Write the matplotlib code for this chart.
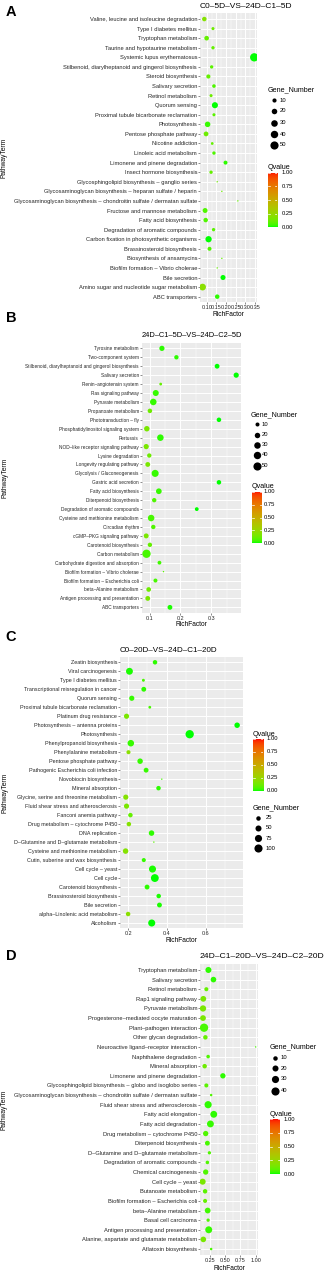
import numpy as np
import matplotlib
matplotlib.use("Agg")
import matplotlib.pyplot as plt
from matplotlib.colors import ListedColormap

plt.rcParams['font.family'] = ['Liberation Sans', 'DejaVu Sans']

# ---------------- data (top-to-bottom as displayed) ----------------
a_terms = ["Valine, leucine and isoleucine degradation", "Type I diabetes mellitus",
           "Tryptophan metabolism", "Taurine and hypotaurine metabolism",
           "Systemic lupus erythematosus", "Stilbenoid, diarylheptanoid and gingerol biosynthesis",
           "Steroid biosynthesis", "Salivary secretion", "Retinol metabolism", "Quorum sensing",
           "Proximal tubule bicarbonate reclamation", "Photosynthesis", "Pentose phosphate pathway",
           "Nicotine addiction", "Linoleic acid metabolism", "Limonene and pinene degradation",
           "Insect hormone biosynthesis", "Glycosphingolipid biosynthesis \u2013 ganglio series",
           "Glycosaminoglycan biosynthesis \u2013 heparan sulfate / heparin",
           "Glycosaminoglycan biosynthesis \u2013 chondroitin sulfate / dermatan sulfate",
           "Fructose and mannose metabolism", "Fatty acid biosynthesis",
           "Degradation of aromatic compounds", "Carbon fixation in photosynthetic organisms",
           "Brassinosteroid biosynthesis", "Biosynthesis of ansamycins",
           "Biofilm formation \u2013 Vibrio cholerae", "Bile secretion",
           "Amino sugar and nucleotide sugar metabolism", "ABC transporters"]
a_rich = [0.087, 0.132, 0.099, 0.132, 0.346, 0.125, 0.108, 0.137, 0.122, 0.142,
          0.137, 0.104, 0.096, 0.128, 0.137, 0.197, 0.122, 0.154, 0.178, 0.261,
          0.091, 0.094, 0.135, 0.109, 0.114, 0.178, 0.154, 0.184, 0.078, 0.154]
a_genes = [12, 5, 13, 6, 52, 6, 10, 7, 5, 25, 5, 20, 14, 4, 6, 9, 6, 2, 2, 2,
           15, 12, 6, 27, 9, 2, 2, 16, 32, 12]
a_q = [0.18, 0.12, 0.10, 0.10, 0.00, 0.08, 0.10, 0.06, 0.12, 0.00, 0.08, 0.03, 0.12, 0.10,
       0.06, 0.02, 0.10, 0.12, 0.12, 0.10, 0.06, 0.06, 0.08, 0.00, 0.06, 0.10, 0.10, 0.00,
       0.20, 0.02]

b_terms = ["Tyrosine metabolism", "Two-component system",
           "Stilbenoid, diarylheptanoid and gingerol biosynthesis", "Salivary secretion",
           "Renin\u2013angiotensin system", "Ras signaling pathway", "Pyruvate metabolism",
           "Propanoate metabolism", "Phototransduction \u2013 fly",
           "Phosphatidylinositol signaling system", "Pertussis",
           "NOD\u2013like receptor signaling pathway", "Lysine degradation",
           "Longevity regulating pathway", "Glycolysis / Gluconeogenesis",
           "Gastric acid secretion", "Fatty acid biosynthesis", "Diterpenoid biosynthesis",
           "Degradation of aromatic compounds", "Cysteine and methionine metabolism",
           "Circadian rhythm", "cGMP\u2013PKG signaling pathway", "Carotenoid biosynthesis",
           "Carbon metabolism", "Carbohydrate digestion and absorption",
           "Biofilm formation \u2013 Vibrio cholerae", "Biofilm formation \u2013 Escherichia coli",
           "beta\u2013Alanine metabolism", "Antigen processing and presentation",
           "ABC transporters"]
b_rich = [0.140, 0.187, 0.319, 0.381, 0.136, 0.120, 0.112, 0.101, 0.325, 0.091,
          0.135, 0.089, 0.099, 0.094, 0.118, 0.325, 0.130, 0.115, 0.253, 0.105,
          0.112, 0.089, 0.101, 0.090, 0.132, 0.145, 0.119, 0.097, 0.094, 0.166]
b_genes = [18, 12, 15, 18, 5, 25, 30, 13, 13, 20, 30, 18, 12, 15, 36, 13, 22, 12, 9, 30,
           12, 16, 12, 52, 9, 3, 10, 14, 15, 15]
b_q = [0.02, 0.02, 0.00, 0.00, 0.10, 0.03, 0.03, 0.12, 0.00, 0.15, 0.02, 0.15, 0.12, 0.15,
       0.03, 0.00, 0.03, 0.06, 0.00, 0.05, 0.06, 0.15, 0.10, 0.05, 0.04, 0.08, 0.05, 0.12,
       0.15, 0.01]

c_terms = ["Zeatin biosynthesis", "Viral carcinogenesis", "Type I diabetes mellitus",
           "Transcriptional misregulation in cancer", "Quorum sensing",
           "Proximal tubule bicarbonate reclamation", "Platinum drug resistance",
           "Photosynthesis \u2013 antenna proteins", "Photosynthesis",
           "Phenylpropanoid biosynthesis", "Phenylalanine metabolism",
           "Pentose phosphate pathway", "Pathogenic Escherichia coli infection",
           "Novobiocin biosynthesis", "Mineral absorption",
           "Glycine, serine and threonine metabolism", "Fluid shear stress and atherosclerosis",
           "Fanconi anemia pathway", "Drug metabolism \u2013 cytochrome P450", "DNA replication",
           "D\u2013Glutamine and D\u2013glutamate metabolism", "Cysteine and methionine metabolism",
           "Cutin, suberine and wax biosynthesis", "Cell cycle \u2013 yeast", "Cell cycle",
           "Carotenoid biosynthesis", "Brassinosteroid biosynthesis", "Bile secretion",
           "alpha\u2013Linolenic acid metabolism", "Alcoholism"]
c_rich = [0.339, 0.207, 0.279, 0.281, 0.219, 0.312, 0.192, 0.763, 0.518, 0.214,
          0.202, 0.262, 0.293, 0.374, 0.357, 0.188, 0.192, 0.212, 0.204, 0.321,
          0.333, 0.187, 0.281, 0.326, 0.338, 0.298, 0.358, 0.362, 0.200, 0.322]
c_genes = [25, 68, 10, 30, 35, 9, 35, 40, 105, 60, 20, 40, 30, 5, 25, 35, 35, 25, 25, 40,
           5, 40, 20, 72, 92, 30, 25, 30, 25, 72]
c_q = [0.02, 0.01, 0.05, 0.02, 0.03, 0.05, 0.15, 0.00, 0.00, 0.03, 0.20, 0.03, 0.03, 0.05,
       0.02, 0.18, 0.15, 0.10, 0.18, 0.02, 0.08, 0.18, 0.03, 0.01, 0.00, 0.02, 0.01, 0.01,
       0.20, 0.00]

d_terms = ["Tryptophan metabolism", "Salivary secretion", "Retinol metabolism",
           "Rap1 signaling pathway", "Pyruvate metabolism",
           "Progesterone\u2013mediated oocyte maturation", "Plant\u2013pathogen interaction",
           "Other glycan degradation", "Neuroactive ligand\u2013receptor interaction",
           "Naphthalene degradation", "Mineral absorption", "Limonene and pinene degradation",
           "Glycosphingolipid biosynthesis \u2013 globo and isoglobo series",
           "Glycosaminoglycan biosynthesis \u2013 chondroitin sulfate / dermatan sulfate",
           "Fluid shear stress and atherosclerosis", "Fatty acid elongation",
           "Fatty acid degradation", "Drug metabolism \u2013 cytochrome P450",
           "Diterpenoid biosynthesis", "D\u2013Glutamine and D\u2013glutamate metabolism",
           "Degradation of aromatic compounds", "Chemical carcinogenesis",
           "Cell cycle \u2013 yeast", "Butanoate metabolism",
           "Biofilm formation \u2013 Escherichia coli", "beta\u2013Alanine metabolism",
           "Basal cell carcinoma", "Antigen processing and presentation",
           "Alanine, aspartate and glutamate metabolism", "Aflatoxin biosynthesis"]
d_rich = [0.222, 0.305, 0.188, 0.138, 0.133, 0.133, 0.150, 0.172, 1.000, 0.217,
          0.160, 0.460, 0.188, 0.267, 0.217, 0.310, 0.255, 0.177, 0.205, 0.238,
          0.205, 0.177, 0.127, 0.167, 0.167, 0.210, 0.217, 0.227, 0.138, 0.267]
d_genes = [20, 17, 8, 18, 22, 18, 42, 10, 2, 6, 10, 15, 8, 3, 30, 27, 27, 15, 12, 5,
           6, 15, 20, 10, 8, 18, 5, 28, 17, 3]
d_q = [0.02, 0.02, 0.10, 0.15, 0.15, 0.15, 0.05, 0.10, 0.05, 0.06, 0.12, 0.02, 0.08, 0.06,
       0.02, 0.02, 0.03, 0.06, 0.05, 0.06, 0.06, 0.06, 0.15, 0.08, 0.10, 0.04, 0.06, 0.03,
       0.15, 0.05]

titles = ["C0\u20135D\u2013VS\u201324D\u2013C1\u20135D", "24D\u2013C1\u20135D\u2013VS\u201324D\u2013C2\u20135D",
          "C0\u201320D\u2013VS\u201324D\u2013C1\u201320D", "24D\u2013C1\u201320D\u2013VS\u201324D\u2013C2\u201320D"]
letters = ["A", "B", "C", "D"]
xbreaks = [[0.10, 0.15, 0.20, 0.25, 0.30, 0.35], [0.1, 0.2, 0.3], [0.2, 0.4, 0.6],
           [0.25, 0.50, 0.75, 1.00]]
xlabels = [["0.10", "0.15", "0.20", "0.25", "0.30", "0.35"], ["0.1", "0.2", "0.3"],
           ["0.2", "0.4", "0.6"], ["0.25", "0.50", "0.75", "1.00"]]
size_breaks = [[10, 20, 30, 40, 50], [10, 20, 30, 40, 50], [25, 50, 75, 100], [10, 20, 30, 40]]
q_breaks = [0.00, 0.25, 0.50, 0.75, 1.00]

# ---------------- colour scale: green -> red interpolated in Lab ----------------
def srgb_to_lab(rgb):
    rgb = np.asarray(rgb, float)
    lin = np.where(rgb <= 0.04045, rgb / 12.92, ((rgb + 0.055) / 1.055) ** 2.4)
    M = np.array([[0.4124, 0.3576, 0.1805], [0.2126, 0.7152, 0.0722], [0.0193, 0.1192, 0.9505]])
    xyz = M @ lin / np.array([0.95047, 1.0, 1.08883])
    d = 6 / 29
    f = np.where(xyz > d ** 3, np.cbrt(xyz), xyz / (3 * d * d) + 4 / 29)
    return np.array([116 * f[1] - 16, 500 * (f[0] - f[1]), 200 * (f[1] - f[2])])

def lab_to_srgb(lab):
    L, a, b = lab
    fy = (L + 16) / 116
    fx = fy + a / 500
    fz = fy - b / 200
    d = 6 / 29
    finv = lambda t: np.where(t > d, t ** 3, 3 * d * d * (t - 4 / 29))
    xyz = np.array([finv(fx), finv(fy), finv(fz)]) * np.array([0.95047, 1.0, 1.08883])
    Minv = np.linalg.inv(np.array([[0.4124, 0.3576, 0.1805], [0.2126, 0.7152, 0.0722],
                                   [0.0193, 0.1192, 0.9505]]))
    lin = np.clip(Minv @ xyz, 0, 1)
    rgb = np.where(lin <= 0.0031308, 12.92 * lin, 1.055 * lin ** (1 / 2.4) - 0.055)
    return np.clip(rgb, 0, 1)

lab0 = srgb_to_lab([0, 1, 0])
lab1 = srgb_to_lab([1, 0, 0])
cols = [lab_to_srgb(lab0 + (lab1 - lab0) * t) for t in np.linspace(0, 1, 256)]
cmap = ListedColormap(cols)

# ---------------- figure & helpers ----------------
W, H = 324, 1272
fig = plt.figure(figsize=(W / 100, H / 100), dpi=100)

def px_axes(l, t, r, b):
    return fig.add_axes([l / W, 1 - b / H, (r - l) / W, (b - t) / H])

panel_rects = [(200, 13.3, 256.8, 302.4), (141.7, 343, 240.7, 612.7),
               (120, 656.9, 242.7, 928.4), (200, 964.2, 258.3, 1254.8)]
data = [(a_terms, a_rich, a_genes, a_q), (b_terms, b_rich, b_genes, b_q),
        (c_terms, c_rich, c_genes, c_q), (d_terms, d_rich, d_genes, d_q)]

DMIN, DMAX = 1.4, 8.3

def diam(n, lo, hi):
    n = np.asarray(n, float)
    return DMIN + (DMAX - DMIN) * np.sqrt(np.clip((n - lo) / (hi - lo), 0, 1))

def s_of(d):
    return (d * 0.72) ** 2

YTXT = [4.15, 3.45, 3.85, 4.15]
XTXT = [4.0, 3.9, 3.85, 4.0]
TITLE = [6.05, 5.4, 5.75, 6.1]
LEGTXT = 4.2
LAB = 4.8
LEGTITLE = 5.1

axes = []
for k in range(4):
    terms, rich, genes, q = data[k]
    l, t, r, b = panel_rects[k]
    ax = px_axes(l, t, r, b)
    axes.append(ax)
    n = len(terms)
    ypos = np.arange(n)[::-1]
    rich = np.asarray(rich)
    lo, hi = min(genes), max(genes)
    order = np.argsort(genes)[::-1]
    ax.set_facecolor('#EBEBEB')
    span = rich.max() - rich.min()
    ax.set_xlim(rich.min() - 0.05 * span, rich.max() + 0.05 * span)
    ax.set_ylim(-0.6, n - 0.4)
    br = xbreaks[k]
    step = br[1] - br[0]
    minors = [br[0] - step / 2] + [v + step / 2 for v in br]
    for m in minors:
        ax.axvline(m, color='white', lw=0.35, zorder=0)
    for v in br:
        ax.axvline(v, color='white', lw=0.7, zorder=0)
    for y in ypos:
        ax.axhline(y, color='white', lw=0.7, zorder=0)
    ax.scatter(rich[order], ypos[order], s=s_of(diam(np.asarray(genes)[order], lo, hi)),
               c=np.asarray(q)[order], cmap=cmap, vmin=0, vmax=1, linewidths=0, zorder=3)
    ax.set_yticks(ypos)
    ax.set_yticklabels(terms)
    ax.set_xticks(br)
    ax.set_xticklabels(xlabels[k])
    ax.tick_params(axis='both', length=1.3, width=0.4, color='#333333',
                   labelcolor='#262626', pad=0.8)
    ax.tick_params(axis='y', labelsize=YTXT[k])
    ax.tick_params(axis='x', labelsize=XTXT[k])
    for sp in ax.spines.values():
        sp.set_visible(False)

ov = fig.add_axes([0, 0, 1, 1])
ov.set_xlim(0, W)
ov.set_ylim(H, 0)
ov.axis('off')

title_y = [6, 335.7, 650.7, 956.7]
letter_y = [12, 318, 637, 956]
xlab_y = [315, 625, 940.7, 1268]
ylab_x = [4.5, 5.5, 4.7, 4.5]
for k in range(4):
    l, t, r, b = panel_rects[k]
    ov.text(l, title_y[k], titles[k], fontsize=TITLE[k], ha='left', va='center', color='black')
    ov.text(11, letter_y[k], letters[k], fontsize=10.5, fontweight='bold', ha='center',
            va='center', color='black')
    ov.text((l + r) / 2, xlab_y[k], 'RichFactor', fontsize=LAB, ha='center', va='center',
            color='black')
    ov.text(ylab_x[k], (t + b) / 2, 'PathwayTerm', fontsize=LAB, ha='center', va='center',
            rotation=90, color='black')

def size_legend(k, tx, ty, keyx, ys, labx):
    genes = data[k][2]
    lo, hi = min(genes), max(genes)
    ov.text(tx, ty, 'Gene_Number', fontsize=LEGTITLE, ha='left', va='center', color='black')
    for v, y in zip(size_breaks[k], ys):
        ov.scatter([keyx], [y], s=s_of(diam(v, lo, hi)), c='black', linewidths=0)
        ov.text(labx, y, str(v), fontsize=LEGTXT, ha='left', va='center', color='black')

def q_legend(tx, ty, l, t, r, b, labx):
    ov.text(tx, ty, 'Qvalue', fontsize=LEGTITLE, ha='left', va='center', color='black')
    cax = px_axes(l, t, r, b)
    grad = np.linspace(0, 1, 256)[:, None]
    cax.imshow(grad, aspect='auto', cmap=cmap, origin='lower', extent=(0, 1, 0, 1),
               vmin=0, vmax=1)
    for v in q_breaks:
        cax.plot([0, 0.2], [v, v], color='white', lw=0.5)
        cax.plot([0.8, 1], [v, v], color='white', lw=0.5)
    cax.set_xlim(0, 1)
    cax.set_ylim(0, 1)
    cax.axis('off')
    for v in q_breaks:
        ov.text(labx, b - v * (b - t), '%.2f' % v, fontsize=LEGTXT, ha='left', va='center',
                color='black')

size_legend(0, 268, 90, 274, [100, 111, 123, 134, 145], 280)
q_legend(268, 167.3, 268, 172.7, 277.3, 227.3, 282)
size_legend(1, 250.7, 415, 256.7, [424, 434.7, 445, 455, 465.7], 261.7)
q_legend(252, 486.7, 251.7, 491.7, 261.7, 543.3, 264)
q_legend(253, 734, 253.3, 739, 263.3, 790.7, 266.7)
size_legend(2, 253, 807.7, 258.3, [817.7, 827.7, 838, 848.3], 265.7)
size_legend(3, 269.3, 1046.7, 275, [1057.7, 1068, 1078.7, 1091], 281)
q_legend(270, 1114, 270, 1119.3, 280, 1174, 284)

fig.savefig('out.png', dpi=100, facecolor='white')
